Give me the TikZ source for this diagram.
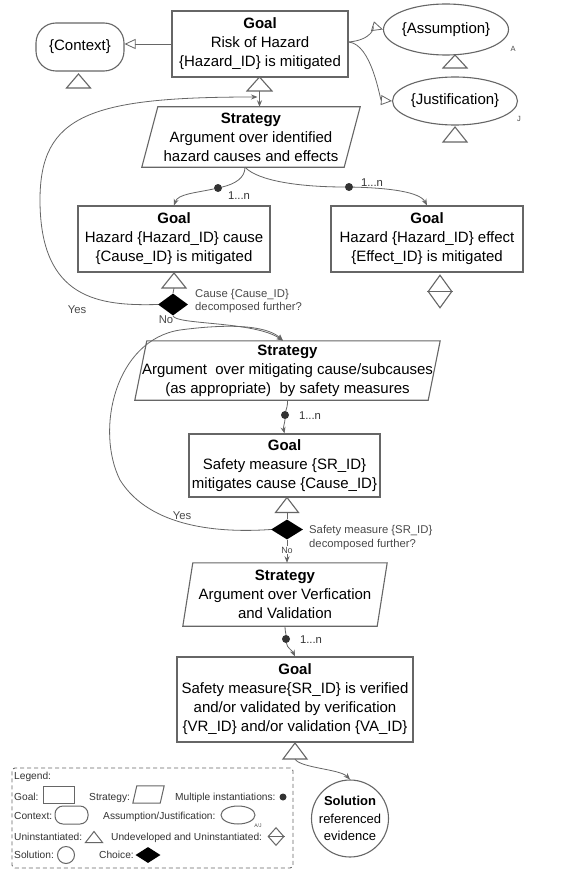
\documentclass[tikz,border=0pt]{standalone}
\usepackage{fontspec}
\setmainfont{Liberation Sans}
\usetikzlibrary{shapes.geometric,arrows.meta,calc}
\definecolor{edgec}{HTML}{666666}
\definecolor{lblc}{HTML}{4A4A4A}
\definecolor{dotc}{HTML}{333333}
\newcommand\fmain{\fontsize{15}{19}\selectfont}
\newcommand\fsol{\fontsize{13}{17.5}\selectfont}
\newcommand\flbl{\fontsize{11.3}{13}\selectfont}
\newcommand\fleg{\fontsize{10.2}{12}\selectfont}
\newcommand\drawtri[1]{\draw[shp] (#1.south west) -- (#1.north) -- (#1.south east) -- cycle;}
\newcommand\drawpar[2]{\draw[shp] (#1.south west) -- ($(#1.north west)+(#2,0)$) -- (#1.north east) -- ($(#1.south east)+(-#2,0)$) -- cycle;}
\begin{document}
\begin{tikzpicture}[x=1pt,y=-1pt,
  shp/.style={draw=edgec, line width=1.1pt},
  goalbox/.style={shp, rectangle, inner sep=0pt, align=center, font=\fmain, text=black},
  stratnode/.style={inner sep=0pt, align=center, font=\fmain, text=black},
  trin/.style={inner sep=0pt, outer sep=0pt, minimum width=24pt, minimum height=14pt},
  dotn/.style={circle, fill=dotc, inner sep=0pt, minimum size=8pt},
  choice/.style={diamond, fill=black, inner sep=0pt},
  wire/.style={draw=edgec, line width=0.8pt},
  conn/.style={wire, -{Stealth[length=6.5pt,width=5pt]}},
  openarr/.style={wire, -{Triangle[open, length=11pt, width=10pt]}},
  lbl/.style={font=\flbl, text=lblc, inner sep=0pt},
  multl/.style={font=\flbl, text=dotc, inner sep=0pt},
  legt/.style={font=\fleg, text=dotc, inner sep=0pt, anchor=base west},
  legs/.style={draw=edgec, line width=1pt, inner sep=0pt}
]
\fill[white] (0,0) rectangle (561,872);
\useasboundingbox (0,0) rectangle (561,872);

% ---------- top goal and its context/assumption/justification
\node[goalbox, minimum width=176, minimum height=66] (g1) at (260,44)
  {{\bfseries Goal}\\Risk of Hazard\\\{Hazard\_ID\} is mitigated};
\node[goalbox, rounded corners=20pt, minimum width=88, minimum height=48] (ctx) at (80,47) {\{Context\}};
\node[goalbox, ellipse, minimum width=95, minimum height=51] (asm) at (446,29.5) {\{Assumption\}};
\node[goalbox, ellipse, minimum width=104, minimum height=48] (jus) at (455,101) {\{Justification\}};
\node[font=\fontsize{7.5}{9}\selectfont, text=lblc, inner sep=0pt] (lA) at (513,49) {A};
\node[font=\fontsize{7.5}{9}\selectfont, text=lblc, inner sep=0pt] (lJ) at (519,119) {J};

\node[trin] (tctx) at (78.5,81) {}; \drawtri{tctx}
\node[trin, minimum height=13pt] (tasm) at (455,61.5) {}; \drawtri{tasm}
\node[trin, minimum height=15pt] (tjus) at (455,134.5) {}; \drawtri{tjus}
\node[trin, minimum width=25pt] (t1) at (259.5,84) {}; \drawtri{t1}

\draw[openarr] (g1.west) -- (g1.west -| ctx.east);
\coordinate (g1e) at ($(g1.east)+(0,-2)$);
\draw[openarr] (g1e) .. controls (372,40) and (375,27) .. (asm.west);
\draw[openarr] (g1e) .. controls (372,44) and (380,100) .. (jus.west);

% ---------- strategy 1
\node[stratnode, minimum width=218, minimum height=60] (s1) at (251,137)
  {{\bfseries Strategy}\\Argument over identified\\hazard causes and effects};
\drawpar{s1}{16}
\draw[conn] (t1.south) -- (t1.south |- s1.north);

% ---------- cause / effect goals
\node[goalbox, minimum width=192, minimum height=66] (g2) at (174,239)
  {{\bfseries Goal}\\Hazard \{Hazard\_ID\} cause\\\{Cause\_ID\} is mitigated};
\node[goalbox, minimum width=192, minimum height=66] (g3) at (427,239)
  {{\bfseries Goal}\\Hazard \{Hazard\_ID\} effect\\\{Effect\_ID\} is mitigated};

\coordinate (s1b) at ($(s1.south)+(-6,0)$);
\node[dotn] (d1) at (218,188) {};
\node[dotn] (d2) at (349,187) {};
\draw[wire] (s1b) .. controls (245,178) and (235,184) .. (d1);
\draw[conn] (d1) .. controls (195,193) and (178,194) .. (g2.north);
\draw[wire] (s1b) .. controls (258,181) and (300,187) .. (d2);
\draw[conn] (d2) .. controls (390,188) and (420,192) .. (g3.north);
\node[multl] (n1) at (239,196) {1...n};
\node[multl] (n2) at (372,183) {1...n};

\node[trin, minimum height=15pt] (t2) at (174,280.5) {}; \drawtri{t2}
\node[choice, minimum width=30pt, minimum height=22pt] (c1) at (173,304.5) {};
\draw[wire] (t2.south) -- (c1.north);
\node[lbl, align=left, anchor=west] (q1) at (195,301.5) {Cause \{Cause\_ID\}\\decomposed further?};

\node[diamond, shp, inner sep=0pt, minimum width=24pt, minimum height=33pt] (u3) at (440,291.5) {};
\draw[wire, line width=0.9pt] (u3.west) -- (u3.east);

% Yes loop 1
\coordinate (j1) at ($(t1.south)+(-2,6)$);
\draw[conn] (c1.west) .. controls (100,306) and (40,300) .. (40,200) .. controls (40,115) and (90,97) .. (j1);
\node[lbl] (y1) at (77,310) {Yes};
\node[lbl] (no1) at (166,320) {No};

% ---------- strategy 2
\node[stratnode, minimum width=305, minimum height=59] (s2) at (287.5,370.5)
  {{\bfseries Strategy}\\Argument~ over mitigating cause/subcauses\\(as appropriate)~ by safety measures};
\drawpar{s2}{12}
\coordinate (s2in) at ($(s2.north)+(-4.5,0)$);
\draw[conn] (c1.south) .. controls (175,325) and (255,321) .. (s2in);

% ---------- goal 4
\node[goalbox, minimum width=191, minimum height=63] (g4) at (284.5,465.5)
  {{\bfseries Goal}\\Safety measure \{SR\_ID\}\\mitigates cause \{Cause\_ID\}};
\node[dotn] (d3) at (285,415) {};
\draw[wire] (s2.south) .. controls (288,405) and (286,410) .. (d3);
\draw[conn] (d3) .. controls (285,422) and (283,427) .. (g4.north);
\node[multl] (n3) at (310,416) {1...n};

\node[trin, minimum width=23pt, minimum height=15pt] (t4) at (287,505) {}; \drawtri{t4}
\node[choice, minimum width=32pt, minimum height=20pt] (c2) at (287,529.5) {};
\draw[wire] (t4.south) -- (c2.north);
\node[lbl, align=left, anchor=west] (q2) at (309,537.5) {Safety measure \{SR\_ID\}\\[1pt]decomposed further?};

% Yes loop 2
\draw[conn] (c2.west) .. controls (220,533) and (150,528) .. (120,480) .. controls (95,430) and (115,340) .. (180,330) .. controls (240,322) and (270,328) .. (s2in);
\node[lbl] (y2) at (182,516) {Yes};

% ---------- strategy 3
\node[stratnode, minimum width=204, minimum height=63] (s3) at (285,594.5)
  {{\bfseries Strategy}\\Argument over Verfication\\and Validation};
\drawpar{s3}{10}
\draw[conn] (c2.south) -- node[fill=white, inner sep=0.5pt, font=\fontsize{9}{10}\selectfont, text=lblc, pos=0.45] (no2) {No} (c2.south |- s3.north);

% ---------- goal 5
\node[goalbox, minimum width=236, minimum height=85] (g5) at (295,699.5)
  {{\bfseries Goal}\\Safety measure\{SR\_ID\} is verified\\and/or validated by verification\\\{VR\_ID\} and/or validation \{VA\_ID\}};
\node[dotn] (d4) at (286,639) {};
\draw[wire] (s3.south) .. controls (285,631) and (286,634) .. (d4);
\draw[conn] (d4) .. controls (287,648) and (292,650) .. (g5.north);
\node[multl] (n4) at (311,640) {1...n};

\node[trin, minimum height=16pt] (t5) at (295,751) {}; \drawtri{t5}
\node[shp, circle, minimum size=77pt, inner sep=0pt, align=center, font=\fsol] (sol) at (350,818.5)
  {{\bfseries Solution}\\referenced\\evidence};
\draw[conn] (t5.south) .. controls (300,768) and (340,769) .. (sol.north);

% ---------- legend
\node[draw=edgec, line width=0.9pt, dashed, dash pattern=on 4pt off 3pt, rounded corners=3pt,
      minimum width=281, minimum height=100, inner sep=0pt] (legend) at (152.5,818) {};
\node[legt] (lg0) at (14,779.5) {Legend:};
\node[legt] (lg1) at (14,800.5) {Goal:};
\node[legs, minimum width=31, minimum height=17] (lgg) at (58.5,794.5) {};
\node[legt] (lg2) at (89,800.5) {Strategy:};
\node[inner sep=0pt, minimum width=31, minimum height=17] (lgs) at (148.5,794.5) {};
\draw[legs] (lgs.south west) -- ($(lgs.north west)+(4,0)$) -- (lgs.north east) -- ($(lgs.south east)+(-4,0)$) -- cycle;
\node[legt] (lg3) at (175,800.5) {Multiple instantiations:};
\node[dotn, minimum size=7pt] (lgd) at (283,797) {};
\node[legt] (lg4) at (14,819.5) {Context:};
\node[legs, rounded corners=8pt, minimum width=33, minimum height=18] (lgc) at (71.5,815) {};
\node[legt] (lg5) at (103,819.5) {Assumption/Justification:};
\node[legs, ellipse, minimum width=34, minimum height=18] (lge) at (238,815) {};
\node[font=\fontsize{5}{6}\selectfont, text=lblc, inner sep=0pt] (lgaj) at (258,826) {A/J};
\node[legt] (lg6) at (14,840.5) {Uninstantiated:};
\node[trin, minimum width=17pt, minimum height=11pt] (lgt) at (94,837) {};
\draw[legs] (lgt.south west) -- (lgt.north) -- (lgt.south east) -- cycle;
\node[legt] (lg7) at (111,840.5) {Undeveloped and Uninstantiated:};
\node[legs, diamond, minimum width=16pt, minimum height=18pt] (lgu) at (276,836.5) {};
\draw[edgec, line width=0.8pt] (lgu.west) -- (lgu.east);
\node[legt] (lg8) at (14,858.5) {Solution:};
\node[legs, circle, minimum size=17pt] (lgsol) at (66,855) {};
\node[legt] (lg9) at (99,858.5) {Choice:};
\node[choice, minimum width=25pt, minimum height=16pt] (lgch) at (148,855) {};
\end{tikzpicture}
\end{document}
